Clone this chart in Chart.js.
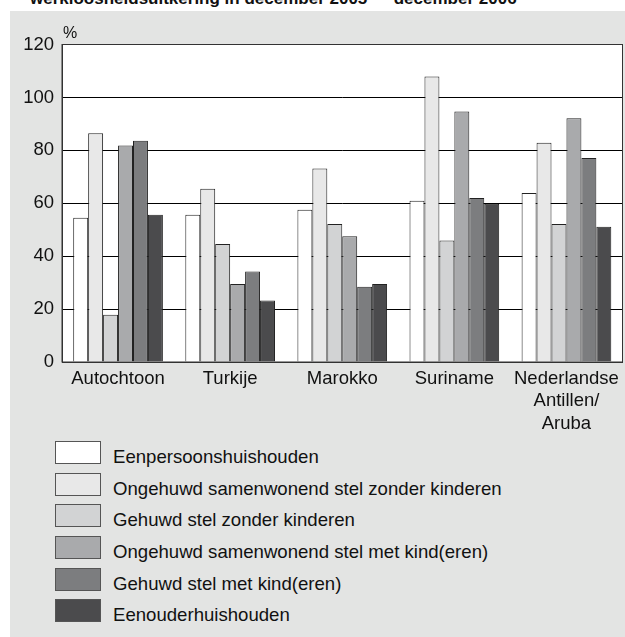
<!DOCTYPE html>
<html>
<head>
<meta charset="utf-8">
<script src="https://cdn.jsdelivr.net/npm/chart.js@4.4.0/dist/chart.umd.min.js"></script>
<style>
    html, body {
        margin: 0;
        padding: 0;
        width: 625px;
        height: 637px;
        overflow: hidden;
        background: #ffffff;
        font-family: 'Liberation Sans', Arial, sans-serif;
        color: #111;
    }
    #title {
        position: absolute;
        left: 30px;
        top: -11px;
        font-size: 17px;
        line-height: 20px;
        font-weight: bold;
        white-space: nowrap;
    }
    #panel {
        position: absolute;
        left: 10px;
        top: 11px;
        width: 615px;
        height: 626px;
        background: #e3e4e3;
    }
    #chartBox {
        position: absolute;
        left: 0;
        top: 0;
        width: 615px;
        height: 430px;
    }
    #unit {
        position: absolute;
        left: 53px;
        top: 13px;
        font-size: 16px;
    }
    #legend {
        position: absolute;
        left: 45px;
        top: 430px;
    }
    .legendRow {
        display: flex;
        height: 31.7px;
    }
    .legendBox {
        width: 44px;
        height: 21px;
        border: 1px solid #555;
    }
    .legendText {
        margin-left: 12px;
        font-size: 18.6px;
        line-height: 23px;
        padding-top: 4px;
        white-space: nowrap;
    }
</style>
</head>
<body>
<div id="title">werkloosheidsuitkering in december 2005 — december 2006</div>
<div id="panel">
    <div id="chartBox"><canvas id="barChart"></canvas></div>
    <div id="unit">%</div>
    <div id="legend"></div>
</div>
<script>
const categories = ['Autochtoon', 'Turkije', 'Marokko', 'Suriname', ['Nederlandse', 'Antillen/', 'Aruba']];

const seriesNames = [
    'Eenpersoonshuishouden',
    'Ongehuwd samenwonend stel zonder kinderen',
    'Gehuwd stel zonder kinderen',
    'Ongehuwd samenwonend stel met kind(eren)',
    'Gehuwd stel met kind(eren)',
    'Eenouderhuishouden'
];

const eenpersoons = [54.5, 55.7, 57.5, 60.9, 63.9];
const ongehuwdZonder = [86.5, 65.5, 73.1, 107.9, 82.9];
const gehuwdZonder = [17.9, 44.6, 52.2, 45.9, 52.2];
const ongehuwdMet = [81.8, 29.5, 47.5, 94.7, 92.1];
const gehuwdMet = [83.6, 34.2, 28.4, 62.0, 77.1];
const eenouder = [55.7, 23.2, 29.5, 59.8, 51.1];

const yTicks = [0, 20, 40, 60, 80, 100, 120];

const seriesValues = [eenpersoons, ongehuwdZonder, gehuwdZonder, ongehuwdMet, gehuwdMet, eenouder];
const seriesColors = ['#ffffff', '#e8e8e8', '#d2d3d4', '#a9aaac', '#7c7d7f', '#4b4b4d'];

// white plot area with a thin frame
const plotFrame = {
    id: 'plotFrame',
    beforeDraw(chart) {
        const a = chart.chartArea;
        const c = chart.ctx;
        c.save();
        c.fillStyle = '#ffffff';
        c.fillRect(a.left, a.top, a.right - a.left, a.bottom - a.top);
        c.restore();
    },
    afterDraw(chart) {
        const a = chart.chartArea;
        const c = chart.ctx;
        c.save();
        c.strokeStyle = '#333';
        c.lineWidth = 1;
        c.strokeRect(a.left, a.top, a.right - a.left, a.bottom - a.top);
        c.restore();
    }
};

Chart.defaults.font.family = "'Liberation Sans', Arial, sans-serif";
Chart.defaults.font.size = 18.5;
Chart.defaults.color = '#111';

const barCtx = document.getElementById('barChart').getContext('2d');
const barChart = new Chart(barCtx, {
    type: 'bar',
    data: {
        labels: categories,
        datasets: seriesNames.map((name, i) => ({
            label: name,
            data: seriesValues[i],
            backgroundColor: seriesColors[i],
            borderColor: '#222',
            borderWidth: 1,
            barPercentage: 1.0,
            categoryPercentage: 0.8
        }))
    },
    options: {
        responsive: true,
        maintainAspectRatio: false,
        animation: false,
        layout: {
            padding: { top: 33.5, right: 1, bottom: 0, left: 0 }
        },
        scales: {
            y: {
                min: 0,
                max: 120,
                afterFit: (scale) => { scale.width = 52; },
                afterBuildTicks: (scale) => { scale.ticks = yTicks.map(v => ({ value: v })); },
                ticks: {
                    padding: 8
                },
                grid: {
                    color: '#000',
                    lineWidth: 1,
                    drawTicks: false
                },
                border: {
                    display: true,
                    color: '#333'
                }
            },
            x: {
                afterFit: (scale) => { scale.height = 79; },
                ticks: {
                    padding: 6,
                    maxRotation: 0,
                    autoSkip: false
                },
                grid: {
                    display: false,
                    drawTicks: false
                },
                border: {
                    display: true,
                    color: '#333'
                }
            }
        },
        plugins: {
            legend: { display: false },
            tooltip: { enabled: false }
        }
    },
    plugins: [plotFrame]
});

// legend as html rows, one per series
const legendDiv = document.getElementById('legend');
barChart.data.datasets.forEach(ds => {
    const row = document.createElement('div');
    row.className = 'legendRow';
    const box = document.createElement('div');
    box.className = 'legendBox';
    box.style.background = ds.backgroundColor;
    const text = document.createElement('div');
    text.className = 'legendText';
    text.textContent = ds.label;
    row.appendChild(box);
    row.appendChild(text);
    legendDiv.appendChild(row);
});
</script>
</body>
</html>
